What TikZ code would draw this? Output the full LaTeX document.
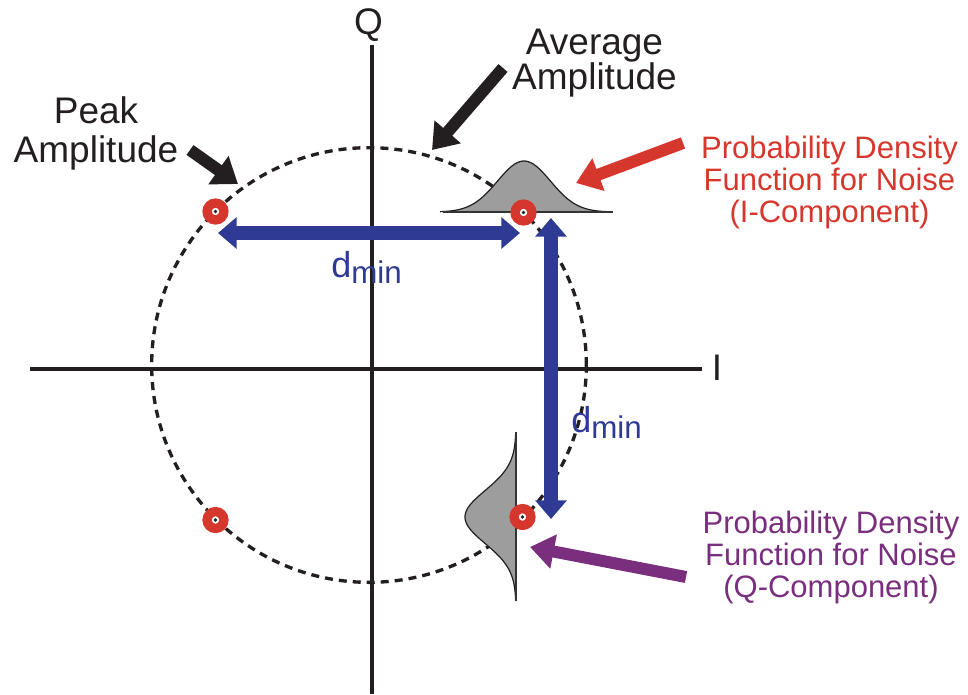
\documentclass[tikz,border=0pt]{standalone}
\usepackage{fontspec}
\setmainfont{Liberation Sans}
\usepackage{xcolor}
\usetikzlibrary{arrows.meta}
\definecolor{plotInk}{HTML}{231F20}
\definecolor{dminBlue}{HTML}{2E3A94}
\definecolor{pdfRed}{HTML}{D6372C}
\definecolor{pdfPurple}{HTML}{7A2E7E}
\definecolor{pdfGray}{HTML}{9D9D9D}
\lineskiplimit=-50pt

\tikzset{
  axisline/.style={plotInk, line width=2.3pt},
  ringpt/.style={circle, draw=pdfRed, line width=7pt, fill=white, minimum size=12.6pt, inner sep=0pt},
  dminarrow/.style={dminBlue, line width=10.5pt, >={Triangle[width=23pt,length=14pt]}, <->},
  callout/.style={line width=9pt, >={Triangle[width=25pt,length=18pt]}, ->},
  bigtext/.style={inner sep=0pt, text=plotInk, align=center},
  pdftext/.style={inner sep=0pt, align=center, font=\fontsize{23.25}{24}\selectfont},
  dtext/.style={inner sep=0pt, text=dminBlue, anchor=base west, font=\fontsize{27}{27}\selectfont}
}

\begin{document}
\begin{tikzpicture}[x=0.75pt,y=-0.75pt]
  \useasboundingbox (0,0) rectangle (968,694);

  \coordinate (iLeft) at (30,369);
  \coordinate (iRight) at (702,369);
  \coordinate (qTop) at (372,45);
  \coordinate (qBottom) at (372,694);
  \draw[axisline] (iLeft) -- (iRight);
  \draw[axisline] (qTop) -- (qBottom);

  \node[bigtext, anchor=base, font=\fontsize{27.75}{29.25}\selectfont] (qlabel) at (368.5,34) {Q};
  \node[bigtext, anchor=base, font=\fontsize{27.75}{29.25}\selectfont] (ilabel) at (717,380) {I};

  \draw[plotInk, line width=2.5pt, dash pattern=on 6pt off 4.5pt] (369,365) circle (163pt);

  \fill[pdfGray] plot[domain=-84:84, samples=80] ({524+\x}, {212-51*exp(-(\x*\x)/1400)}) -- cycle;
  \draw[plotInk, line width=0.9pt] plot[domain=-84:84, samples=80] ({524+\x}, {212-51*exp(-(\x*\x)/1400)});
  \draw[black!80, line width=1.8pt] (443,212) -- (613,212);

  \fill[pdfGray] plot[domain=-84:84, samples=80] ({516-51*exp(-(\x*\x)/1400)}, {517+\x}) -- cycle;
  \draw[plotInk, line width=0.9pt] plot[domain=-84:84, samples=80] ({516-51*exp(-(\x*\x)/1400)}, {517+\x});
  \draw[black!80, line width=1.8pt] (516,432) -- (516,601);

  \node[ringpt] (sym1) at (215.5,211.5) {};
  \node[ringpt] (sym2) at (523.5,212.5) {};
  \node[ringpt] (sym3) at (522.5,517) {};
  \node[ringpt] (sym4) at (215.5,520) {};
  \foreach \s in {sym1,sym2,sym3,sym4}
    \fill[plotInk] (\s) circle (1.4pt);

  \coordinate (dhLeft) at (218,233);
  \coordinate (dhRight) at (520,233);
  \coordinate (dvTop) at (551,218);
  \coordinate (dvBottom) at (551,519);
  \draw[dminarrow] (dhLeft) -- (dhRight);
  \draw[dminarrow] (dvTop) -- (dvBottom);

  \node[dtext] (dminH) at (331,277) {d\raisebox{-5pt}{\fontsize{23.5}{23.5}\selectfont min}};
  \node[dtext] (dminV) at (571,432) {d\raisebox{-5pt}{\fontsize{23.5}{23.5}\selectfont min}};

  \coordinate (peakTail) at (190,150);
  \coordinate (peakTip) at (238,184);
  \coordinate (avgTail) at (503,68);
  \coordinate (avgTip) at (432,150);
  \coordinate (pdfiTail) at (683,143);
  \coordinate (pdfiTip) at (576,183);
  \coordinate (pdfqTail) at (686,577);
  \coordinate (pdfqTip) at (530,547);
  \draw[callout, plotInk] (peakTail) -- (peakTip);
  \draw[callout, plotInk] (avgTail) -- (avgTip);
  \draw[callout, pdfRed] (pdfiTail) -- (pdfiTip);
  \draw[callout, pdfPurple] (pdfqTail) -- (pdfqTip);

  \node[bigtext, font=\fontsize{27.75}{29.25}\selectfont] (peak) at (96,133) {Peak\\Amplitude};
  \node[bigtext, font=\fontsize{27.75}{26}\selectfont] (avg) at (594.5,63) {Average\\Amplitude};

  \node[pdftext, text=pdfRed] (pdfI) at (829.5,182) {Probability Density\\Function for Noise\\(I-Component)};
  \node[pdftext, text=pdfPurple] (pdfQ) at (831,557) {Probability Density\\Function for Noise\\(Q-Component)};
\end{tikzpicture}
\end{document}
